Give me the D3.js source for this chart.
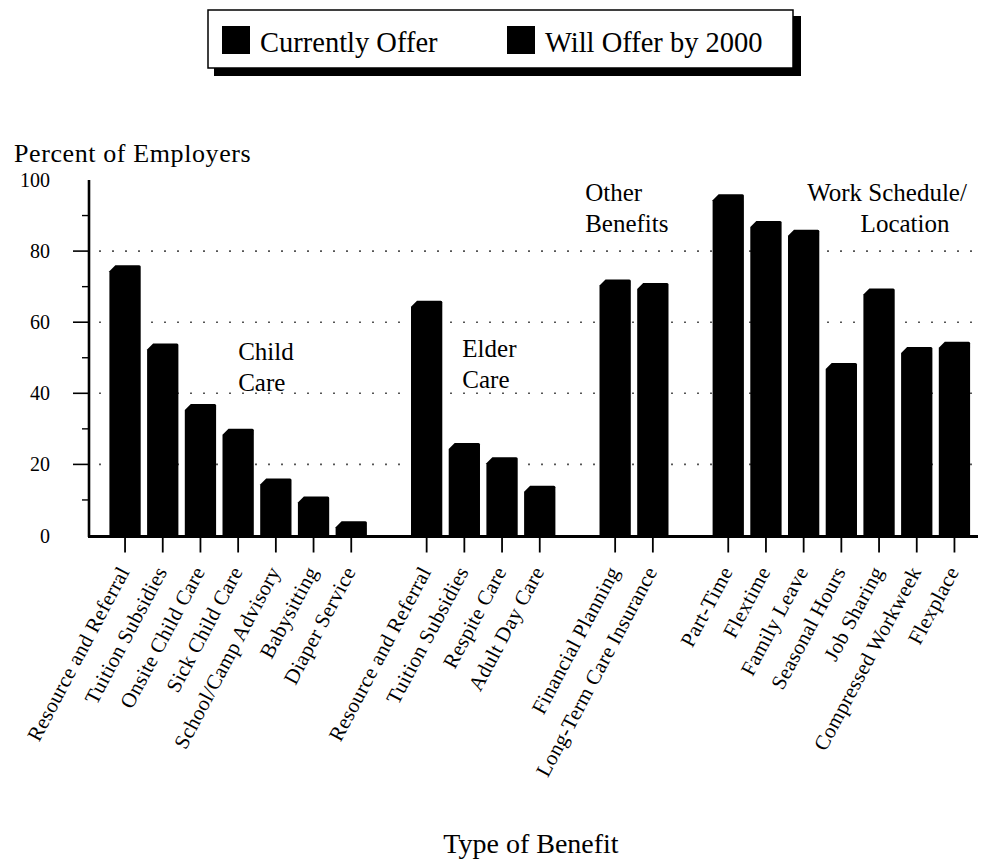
<!DOCTYPE html>
<html>
<head>
<meta charset="utf-8">
<script src="https://cdn.jsdelivr.net/npm/d3@7"></script>
<style>
  html, body { margin: 0; padding: 0; background: #fff; }
  svg { display: block; }
  text { font-family: "Liberation Serif", "Times New Roman", serif; fill: #000; }
</style>
</head>
<body>
<svg id="chart" width="985" height="861"></svg>
<script>
// ---- data ----
const legendItems = ["Currently Offer", "Will Offer by 2000"];
const groupNames = [["Child", "Care"], ["Elder", "Care"], ["Other", "Benefits"], ["Work Schedule/", "Location"]];
const categories = [
  "Resource and Referral", "Tuition Subsidies", "Onsite Child Care", "Sick Child Care",
  "School/Camp Advisory", "Babysitting", "Diaper Service",
  "Resource and Referral", "Tuition Subsidies", "Respite Care", "Adult Day Care",
  "Financial Planning", "Long-Term Care Insurance",
  "Part-Time", "Flextime", "Family Leave", "Seasonal Hours", "Job Sharing",
  "Compressed Workweek", "Flexplace"
];
const categoryGroup = [0,0,0,0,0,0,0, 1,1,1,1, 2,2, 3,3,3,3,3,3,3];
const values = [76, 54, 37, 30, 16, 11, 4, 66, 26, 22, 14, 72, 71, 96, 88.5, 86, 48.5, 69.5, 53, 54.5];
const yTicks = [0, 20, 40, 60, 80, 100];
const yMinorTicks = [10, 30, 50, 70, 90];
const gridValues = [20, 40, 60, 80];
const xTitle = "Type of Benefit";
const yTitle = "Percent of Employers";

// ---- layout ----
const svg = d3.select("#chart");
const axisX0 = 89, axisX1 = 978;

// slots: categories with one empty slot between groups
const slots = [];
categories.forEach((c, i) => {
  if (i > 0 && categoryGroup[i] !== categoryGroup[i - 1]) slots.push("gap" + categoryGroup[i]);
  slots.push("c" + i);
});

const x = d3.scaleBand().domain(slots).range([106.2, 973.3]).padding(0);
const cx = i => x("c" + i) + x.bandwidth() / 2;
const y = d3.scaleLinear().domain([0, 100]).range([535.5, 180]);

// ---- gridlines ----
svg.append("g").selectAll("line").data(gridValues).join("line")
  .attr("x1", axisX0 + 10).attr("x2", axisX1 - 5)
  .attr("y1", d => y(d)).attr("y2", d => y(d))
  .attr("stroke", "#555").attr("stroke-width", 1.6)
  .attr("stroke-dasharray", "2,11");

// ---- bars ----
const barW = x.bandwidth() * 0.83;
const ch = 6;
svg.append("g").selectAll("path").data(values).join("path")
  .attr("d", (v, i) => {
    const x0 = cx(i) - barW / 2, x1 = cx(i) + barW / 2;
    const yt = y(v), yb = y(0);
    return `M${x0},${yb} L${x0},${yt + ch} L${x0 + ch},${yt} L${x1 - 1.5},${yt} Q${x1},${yt} ${x1},${yt + 1.5} L${x1},${yb} Z`;
  })
  .attr("fill", "#000");

// ---- axes ----
const yAxis = svg.append("g");
yAxis.append("line").attr("x1", axisX0).attr("x2", axisX0).attr("y1", y(100)).attr("y2", y(0) + 1.5)
  .attr("stroke", "#000").attr("stroke-width", 2.6);
yAxis.selectAll(".maj").data(yTicks.filter(d => d > 0 && d < 100)).join("line")
  .attr("x1", axisX0 - 16).attr("x2", axisX0).attr("y1", d => y(d)).attr("y2", d => y(d))
  .attr("stroke", "#000").attr("stroke-width", 1.6);
yAxis.selectAll(".min").data(yMinorTicks).join("line")
  .attr("x1", axisX0 - 7).attr("x2", axisX0).attr("y1", d => y(d)).attr("y2", d => y(d))
  .attr("stroke", "#000").attr("stroke-width", 1.4);
yAxis.selectAll("text").data(yTicks).join("text")
  .attr("x", 50).attr("y", d => y(d)).attr("dy", "0.35em")
  .attr("text-anchor", "end").attr("font-size", 20).text(d => d);

const xAxis = svg.append("g");
xAxis.append("line").attr("x1", axisX0 - 1).attr("x2", axisX1).attr("y1", y(0) + 1).attr("y2", y(0) + 1)
  .attr("stroke", "#000").attr("stroke-width", 3);
xAxis.selectAll(".tick").data(categories).join("line")
  .attr("x1", (d, i) => cx(i)).attr("x2", (d, i) => cx(i))
  .attr("y1", y(0) + 2).attr("y2", y(0) + 17)
  .attr("stroke", "#000").attr("stroke-width", 1.8);
xAxis.selectAll("text").data(categories).join("text")
  .attr("transform", (d, i) => `translate(${cx(i) + 5},${y(0) + 36}) rotate(-62)`)
  .attr("text-anchor", "end").attr("font-size", 21).attr("letter-spacing", 0.3).text(d => d);

// ---- titles ----
svg.append("text").attr("x", 14).attr("y", 162).attr("font-size", 26)
  .attr("letter-spacing", 0.6).text(yTitle);
svg.append("text").attr("x", 531).attr("y", 853).attr("text-anchor", "middle")
  .attr("font-size", 28).text(xTitle);

// ---- group labels ----
const gl = svg.append("g").attr("font-size", 25);
const groupLabelPos = [
  { x: cx(3), y: y(49.5), anchor: "start" },
  { x: cx(8) - 2, y: y(50.3), anchor: "start" },
  { x: cx(11) - 30, y: y(94), anchor: "start" },
  { x: cx(17) + 8, y: y(94), anchor: "middle" }
];
groupNames.forEach((lines, g) => {
  const p = groupLabelPos[g];
  const t = gl.append("text").attr("x", p.x).attr("y", p.y).attr("text-anchor", p.anchor);
  lines.forEach((ln, k) => {
    t.append("tspan").attr("x", k === 1 && g === 3 ? p.x + 18 : p.x)
      .attr("dy", k === 0 ? 0 : 31).text(ln);
  });
});

// ---- legend ----
const lg = svg.append("g");
lg.append("rect").attr("x", 214).attr("y", 16).attr("width", 587).attr("height", 60).attr("fill", "#000");
lg.append("rect").attr("x", 208).attr("y", 10).attr("width", 585).attr("height", 58)
  .attr("fill", "#fff").attr("stroke", "#000").attr("stroke-width", 1.5);
const legendX = [222, 507];
lg.selectAll(".sw").data(legendItems).join("rect")
  .attr("x", (d, i) => legendX[i]).attr("y", 26).attr("width", 28).attr("height", 28).attr("fill", "#000");
lg.selectAll("text").data(legendItems).join("text")
  .attr("x", (d, i) => legendX[i] + 38).attr("y", 52).attr("font-size", 28.5).text(d => d);
</script>
</body>
</html>
